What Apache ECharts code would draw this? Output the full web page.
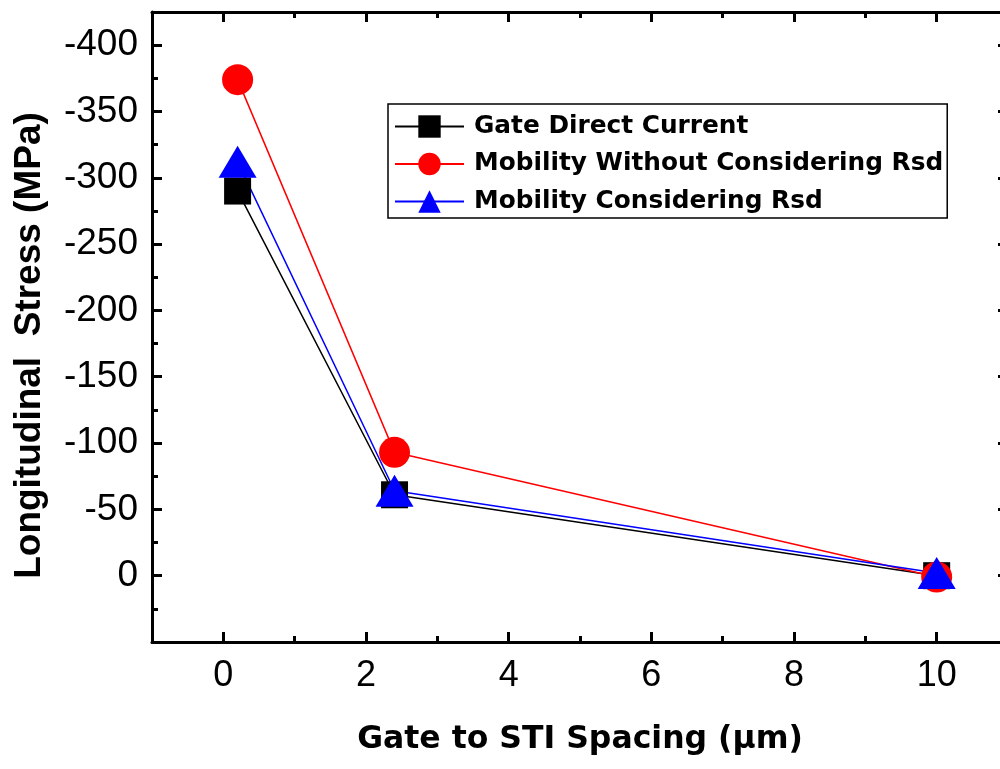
<!DOCTYPE html>
<html>
<head>
<meta charset="utf-8">
<script src="https://cdn.jsdelivr.net/npm/echarts@6/dist/echarts.min.js"></script>
<style>
  html, body { margin: 0; padding: 0; background: #ffffff; }
  #chart { width: 1000px; height: 769px; }
</style>
</head>
<body>
<div id="chart"></div>
<script>
// Spacing between gate and STI (µm)
const spacing = [0.2, 2.4, 10];

// Longitudinal stress (MPa) for each extraction method
const gateDirectCurrent = [-290, -61, 0];
const mobilityWithoutRsd = [-374, -93, 1];
const mobilityWithRsd = [-312, -64, -2];

const seriesNames = [
  'Gate Direct Current',
  'Mobility Without Considering Rsd',
  'Mobility Considering Rsd'
];

// Axis ticks and labels
const xMajorTicks = [0, 2, 4, 6, 8, 10];
const xMinorTicks = [1, 3, 5, 7, 9];
const yMajorTicks = [-400, -350, -300, -250, -200, -150, -100, -50, 0];
const yMinorTicks = [-375, -325, -275, -225, -175, -125, -75, -25, 25];

const X_MIN = -1, X_MAX = 11;
const Y_MIN = -425, Y_MAX = 50;

const labelFont = "'Liberation Sans', Arial, sans-serif";

function xAxisDef(position, ticks, len, withLabels) {
  return {
    type: 'value', position: position, min: X_MIN, max: X_MAX,
    axisLine: { show: withLabels !== null, onZero: false, lineStyle: { color: '#000', width: 3 } },
    axisTick: { show: true, inside: true, length: len, customValues: ticks,
                lineStyle: { color: '#000', width: 3 } },
    axisLabel: withLabels ? {
      show: true, customValues: ticks, margin: 16,
      fontFamily: labelFont, fontSize: 36, color: '#000'
    } : { show: false },
    splitLine: { show: false }
  };
}

function yAxisDef(position, ticks, len, withLabels) {
  return {
    type: 'value', position: position, min: Y_MIN, max: Y_MAX, inverse: true,
    axisLine: { show: withLabels !== null, onZero: false, lineStyle: { color: '#000', width: 3 } },
    axisTick: { show: true, inside: true, length: len, customValues: ticks,
                lineStyle: { color: '#000', width: 3 } },
    axisLabel: withLabels ? {
      show: true, customValues: ticks, margin: 14,
      fontFamily: labelFont, fontSize: 37, color: '#000'
    } : { show: false },
    splitLine: { show: false }
  };
}

const xAxes = [
  Object.assign(xAxisDef('bottom', xMajorTicks, 10, true), {
    name: 'Gate to STI Spacing (\u03bcm)',
    nameLocation: 'middle',
    nameGap: 82,
    nameTextStyle: { fontFamily: "'DejaVu Sans', sans-serif", fontWeight: 'bold', fontSize: 31.5, color: '#000' }
  }),
  xAxisDef('bottom', xMinorTicks, 6, null),
  xAxisDef('top', xMajorTicks, 10, false),
  xAxisDef('top', xMinorTicks, 6, null)
];

const yAxes = [
  Object.assign(yAxisDef('left', yMajorTicks, 10, true), {
    name: 'Longitudinal  Stress (MPa)',
    nameLocation: 'middle',
    nameGap: 104,
    nameTextStyle: { fontFamily: labelFont, fontWeight: 'bold', fontSize: 37, color: '#000',
                     padding: [0, 37, 0, 0] }
  }),
  yAxisDef('left', yMinorTicks, 6, null),
  yAxisDef('right', yMajorTicks, 10, false),
  yAxisDef('right', yMinorTicks, 6, null)
];

function pairs(ys) {
  return spacing.map((x, i) => [x, ys[i]]);
}

const chart = echarts.init(document.getElementById('chart'), null, { renderer: 'canvas' });

chart.setOption({
  backgroundColor: '#ffffff',
  animation: false,
  // plot frame extends slightly past the right edge of the canvas
  grid: { left: 152, width: 856, top: 12, height: 630, containLabel: false, outerBoundsMode: 'none' },
  xAxis: xAxes,
  yAxis: yAxes,
  legend: {
    orient: 'vertical',
    left: 388, top: 104,
    padding: [10, 4, 4, 6],
    itemWidth: 69, itemHeight: 28, itemGap: 12.5,
    borderColor: '#000', borderWidth: 1.5,
    textStyle: { fontFamily: "'DejaVu Sans', sans-serif", fontWeight: 'bold', fontSize: 24.8,
                 color: '#000', padding: [0, 0, 0, 5] },
    data: seriesNames
  },
  series: [
    {
      name: seriesNames[0], type: 'line', data: pairs(gateDirectCurrent),
      symbol: 'rect', symbolSize: 27,
      lineStyle: { color: '#000000', width: 1.5 },
      itemStyle: { color: '#000000' }
    },
    {
      name: seriesNames[1], type: 'line', data: pairs(mobilityWithoutRsd),
      symbol: 'circle', symbolSize: 31,
      lineStyle: { color: '#ff0000', width: 1.5 },
      itemStyle: { color: '#ff0000' }
    },
    {
      name: seriesNames[2], type: 'line', data: pairs(mobilityWithRsd),
      symbol: 'triangle', symbolSize: [38, 32],
      lineStyle: { color: '#0000ff', width: 1.5 },
      itemStyle: { color: '#0000ff' }
    }
  ]
});
</script>
</body>
</html>
